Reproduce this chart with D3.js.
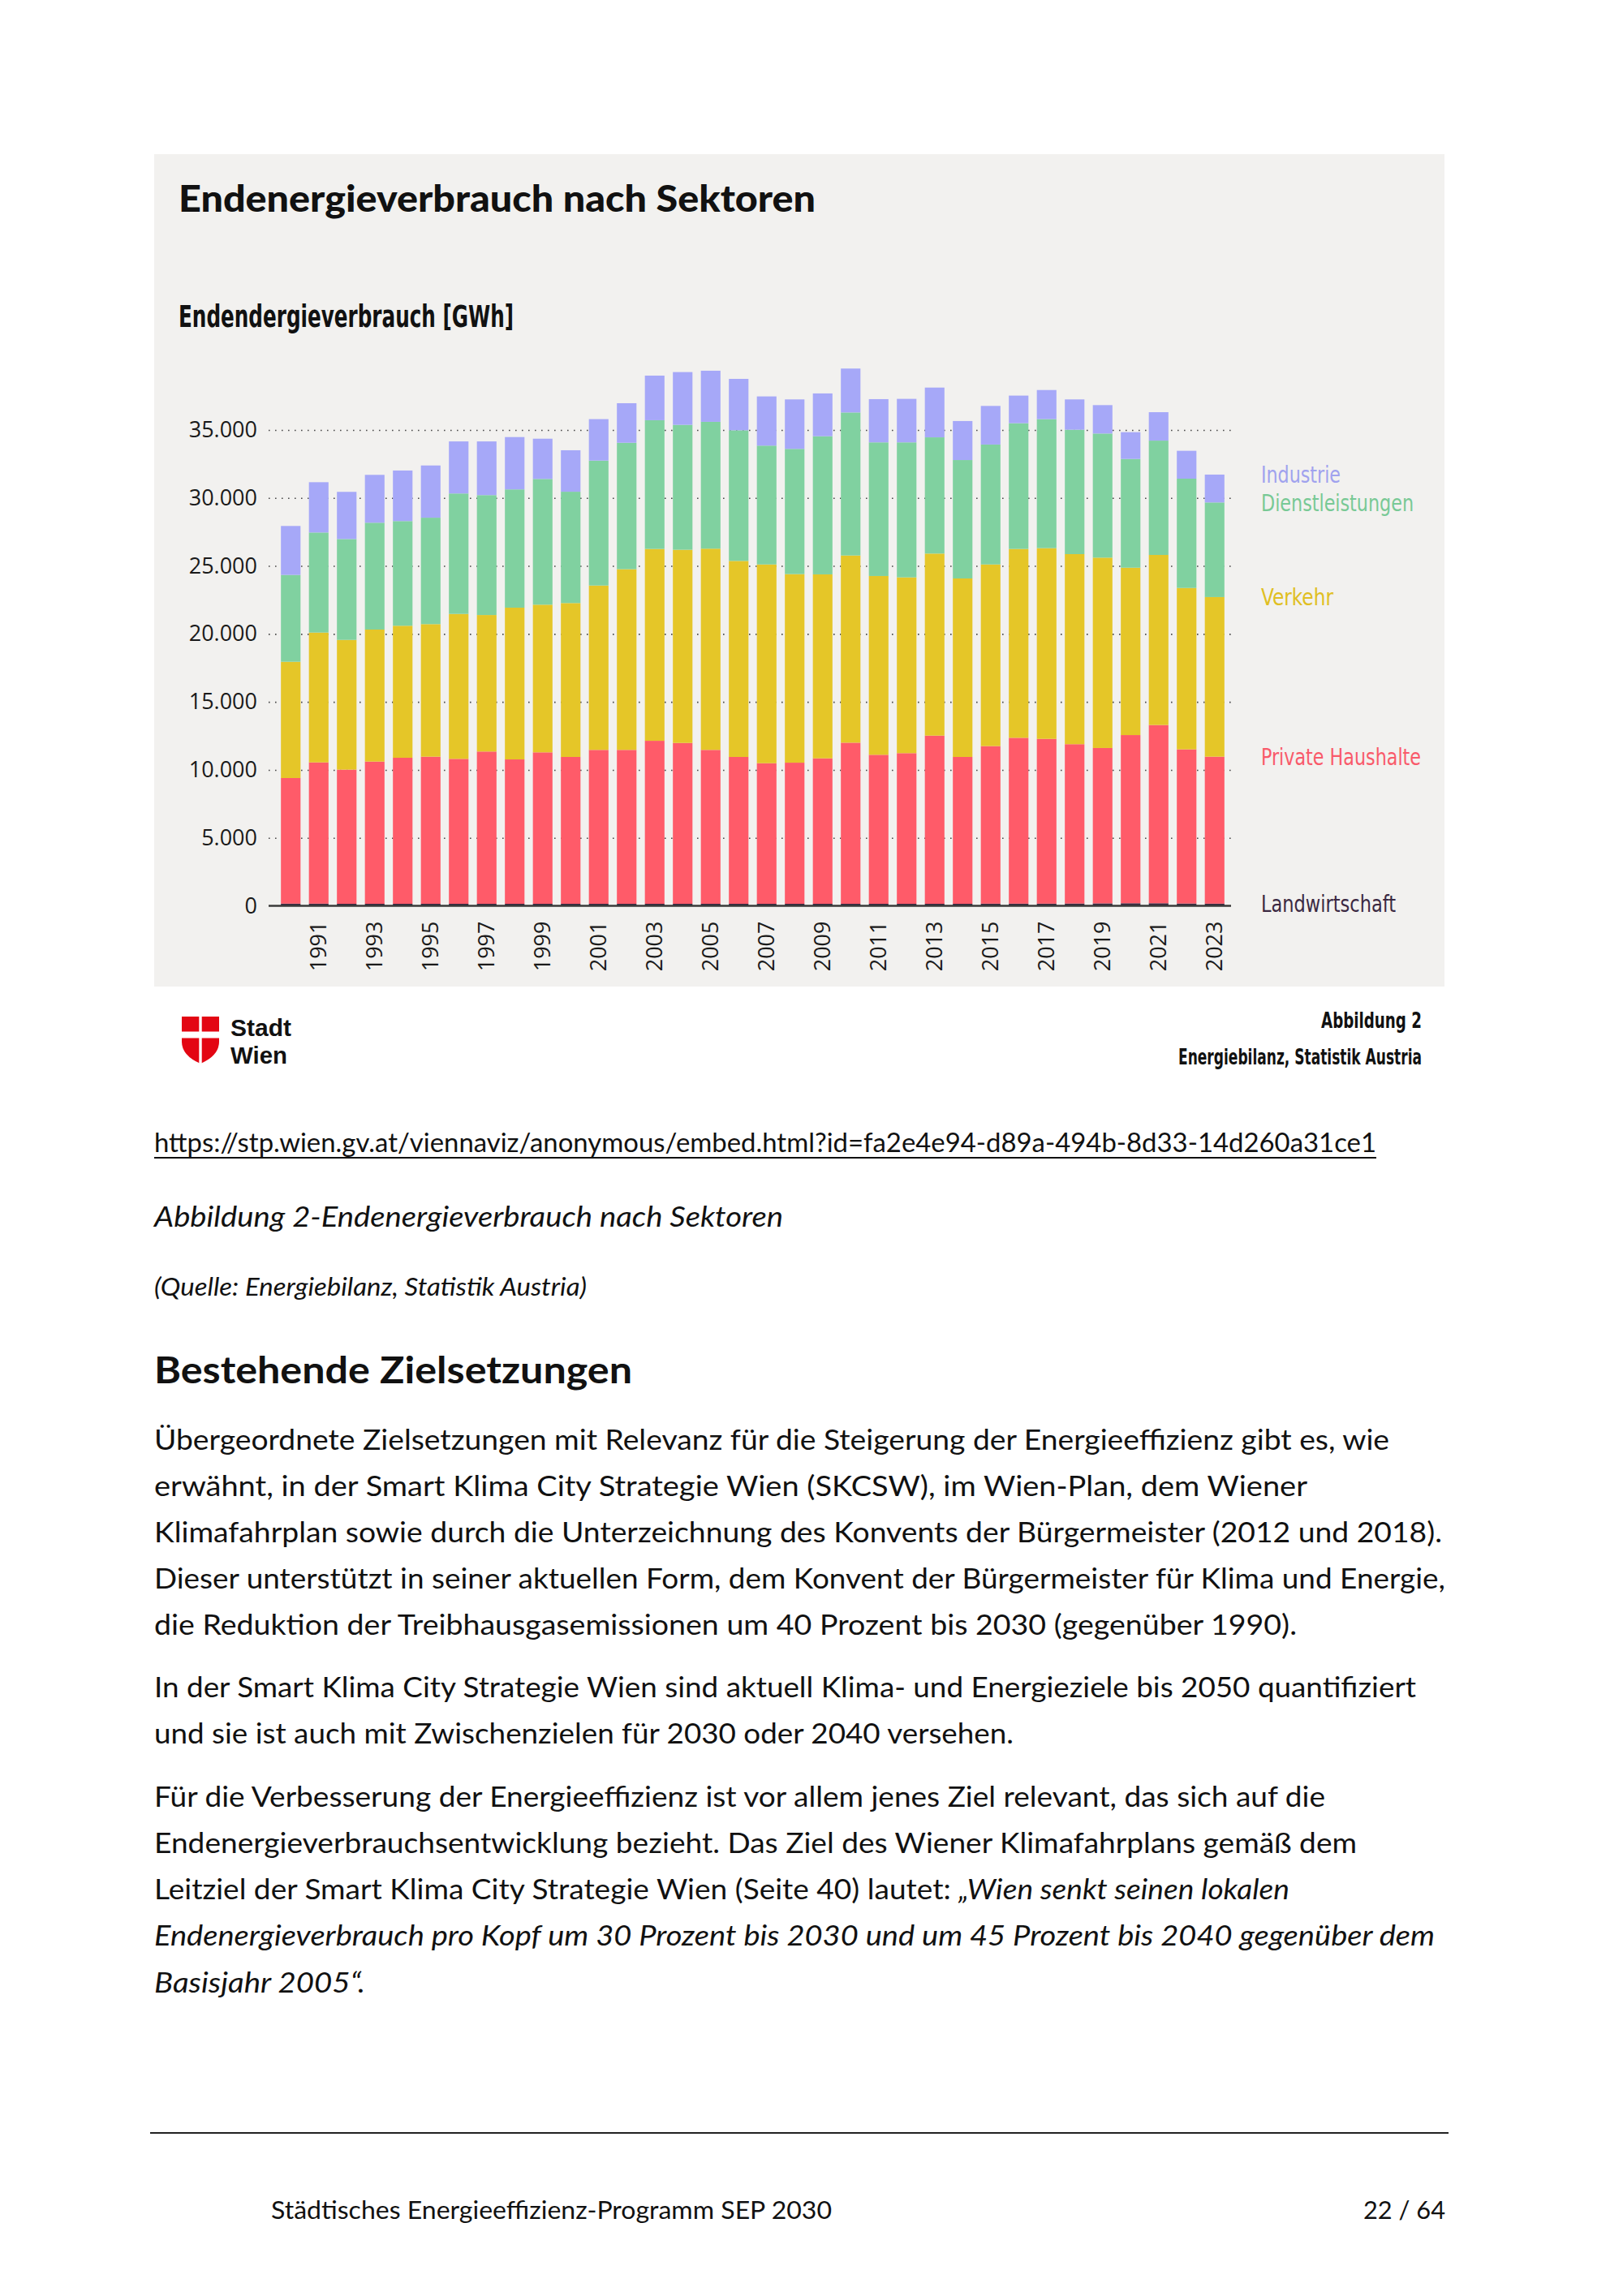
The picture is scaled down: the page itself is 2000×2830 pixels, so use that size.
<!DOCTYPE html>
<html>
<head>
<meta charset="utf-8">
<script src="https://cdn.jsdelivr.net/npm/d3@7"></script>
<style>
  body { margin: 0; background: #fff; }
  svg { display: block; }
</style>
</head>
<body>
<svg id="page" width="2000" height="2830"></svg>
<script>
// Daten (GWh)
var years = [1990, 1991, 1992, 1993, 1994, 1995, 1996, 1997, 1998, 1999,
             2000, 2001, 2002, 2003, 2004, 2005, 2006, 2007, 2008, 2009,
             2010, 2011, 2012, 2013, 2014, 2015, 2016, 2017, 2018, 2019,
             2020, 2021, 2022, 2023];
var yearLabels = [1991, 1993, 1995, 1997, 1999, 2001, 2003, 2005, 2007, 2009,
                  2011, 2013, 2015, 2017, 2019, 2021, 2023];

var landwirtschaft = [160, 160, 150, 150, 150, 150, 150, 150, 150, 150,
                      150, 150, 150, 150, 150, 150, 150, 150, 150, 150,
                      150, 150, 150, 150, 150, 160, 160, 160, 170, 180,
                      190, 190, 170, 160];
var haushalte = [9240, 10390, 9870, 10460, 10740, 10820, 10660, 11200, 10620, 11140,
                 10800, 11320, 11320, 11990, 11830, 11320, 10800, 10340, 10380, 10700,
                 11850, 10960, 11080, 12370, 10800, 11590, 12200, 12120, 11720, 11430,
                 12370, 13110, 11340, 10810];
var verkehr = [8550, 9550, 9540, 9710, 9710, 9750, 10660, 10040, 11160, 10860,
               11320, 12090, 13290, 14110, 14210, 14800, 14420, 14620, 13870, 13530,
               13770, 13150, 12930, 13390, 13130, 13360, 13890, 14030, 13980, 14000,
               12310, 12510, 11870, 11740];
var dienstleistungen = [6390, 7360, 7420, 7860, 7700, 7830, 8860, 8820, 8700, 9250,
                        8190, 9190, 9300, 9470, 9190, 9330, 9610, 8740, 9210, 10160,
                        10520, 9830, 9930, 8550, 8710, 8820, 9250, 9490, 9150, 9130,
                        8000, 8410, 8040, 6960];
var industrie = [3600, 3700, 3470, 3520, 3720, 3840, 3830, 3950, 3850, 2960,
                 3050, 3050, 2910, 3280, 3880, 3760, 3780, 3620, 3640, 3150,
                 3230, 3180, 3200, 3660, 2870, 2840, 2030, 2140, 2230, 2090,
                 1970, 2090, 2050, 2050];
var yTicks = [0, 5000, 10000, 15000, 20000, 25000, 30000, 35000];

;(function(){

    var sectors = ["Landwirtschaft", "Private Haushalte", "Verkehr", "Dienstleistungen", "Industrie"];
    var color_hash = {
        "Landwirtschaft"    : ["#3b2942", "#3b2942"],
        "Private Haushalte" : ["#ff5b69", "#f95a6a"],
        "Verkehr"           : ["#e5c628", "#e0bf22"],
        "Dienstleistungen"  : ["#80d1a0", "#78c995"],
        "Industrie"         : ["#a6a8f8", "#a0a2ee"]
    };
    // Breite der Legendentexte
    var labelWidth = {"Landwirtschaft": 166, "Private Haushalte": 197, "Verkehr": 89,
                      "Dienstleistungen": 188, "Industrie": 98};

    var rows = years.map(function(yr, i){
        return {
            year: yr,
            "Landwirtschaft": landwirtschaft[i],
            "Private Haushalte": haushalte[i],
            "Verkehr": verkehr[i],
            "Dienstleistungen": dienstleistungen[i],
            "Industrie": industrie[i]
        };
    });
    var stacked = d3.stack().keys(sectors)(rows);

    var svg = d3.select("#page");
    var bodyFont = "Lato, 'Open Sans', sans-serif";
    var narrowFont = "'Liberation Sans Narrow', 'DejaVu Sans Condensed', Lato, sans-serif";

    svg.append("rect").attr("width", 2000).attr("height", 2830).attr("fill", "#ffffff");

    // Grafik-Kasten
    svg.append("rect")
        .attr("x", 190).attr("y", 190)
        .attr("width", 1590).attr("height", 1026)
        .attr("fill", "#f2f1ef");

    svg.append("text")
        .attr("x", 220).attr("y", 261)
        .attr("font-family", bodyFont).attr("font-weight", 900)
        .attr("font-size", 46).attr("fill", "#111")
        .attr("textLength", 785).attr("lengthAdjust", "spacingAndGlyphs")
        .text("Endenergieverbrauch nach Sektoren");

    svg.append("text")
        .attr("x", 220).attr("y", 403)
        .attr("font-family", narrowFont).attr("font-weight", 700)
        .attr("font-size", 37).attr("fill", "#111")
        .attr("textLength", 413).attr("lengthAdjust", "spacingAndGlyphs")
        .text("Endendergieverbrauch [GWh]");

    var gridLeft = 331, gridRight = 1517;

    var x = d3.scaleBand()
        .domain(years)
        .range([341, 1514])
        .paddingInner(0.3)
        .paddingOuter(0.15);

    var y = d3.scaleLinear()
        .domain([0, 35000])
        .range([1116.5, 530]);

    var de = d3.formatLocale({decimal: ",", thousands: ".", grouping: [3], currency: ["", " €"]});

    var yAxis = d3.axisLeft(y)
        .tickValues(yTicks)
        .tickSizeInner(-(gridRight - gridLeft))
        .tickSizeOuter(0)
        .tickPadding(14)
        .tickFormat(de.format(","));

    var gy = svg.append("g")//y-Achse mit Hilfslinien
        .attr("class", "axis axis-y")
        .attr("transform", "translate(" + gridLeft + ",0)")
        .call(yAxis);
    gy.select(".domain").remove();
    gy.selectAll(".tick line")
        .attr("stroke", "#4a4a4a")
        .attr("stroke-width", 1.6)
        .attr("stroke-dasharray", "1.6,6.4");
    gy.selectAll(".tick").filter(function(d){ return d === 0; }).select("line").remove();
    gy.selectAll(".tick text")
        .attr("font-family", "'Open Sans', sans-serif")
        .attr("font-size", 27)
        .attr("fill", "#1a1a1a");

    // gestapelte Balken
    var layer = svg.append("g").selectAll("g")
        .data(stacked)
        .enter().append("g")
        .attr("fill", function(d){ return color_hash[d.key][0]; });

    layer.selectAll("rect")
        .data(function(d){ return d; })
        .enter().append("rect")
        .attr("x", function(d){ return x(d.data.year); })
        .attr("width", x.bandwidth())
        .attr("y", function(d){ return y(d[1]); })
        .attr("height", function(d){ return y(d[0]) - y(d[1]); });

    // Nulllinie
    svg.append("line")
        .attr("x1", gridLeft).attr("x2", gridRight)
        .attr("y1", y(0)).attr("y2", y(0))
        .attr("stroke", "#3a3a3a")
        .attr("stroke-width", 2.5);

    var gx = svg.append("g")//x-Achse
        .attr("class", "axis axis-x")
        .attr("transform", "translate(0," + y(0) + ")")
        .call(d3.axisBottom(x).tickValues(yearLabels).tickSize(0));
    gx.select(".domain").remove();
    gx.selectAll(".tick text")
        .attr("font-family", "'Open Sans', sans-serif")
        .attr("font-size", 27)
        .attr("fill", "#1a1a1a")
        .attr("transform", "rotate(-90)")
        .attr("text-anchor", "end")
        .attr("x", -19)
        .attr("y", 0)
        .attr("dy", "0.36em");

    // Beschriftung rechts, auf Höhe des letzten Balkens
    stacked.forEach(function(s){
        var last = s[s.length - 1];
        svg.append("text")
            .attr("x", 1554)
            .attr("y", y(last[1]))
            .attr("dy", "0.36em")
            .attr("font-family", narrowFont)
            .attr("font-size", 29)
            .attr("fill", color_hash[s.key][1])
            .attr("textLength", labelWidth[s.key])
            .attr("lengthAdjust", "spacingAndGlyphs")
            .text(s.key);
    });

    // Logo Stadt Wien
    var logo = svg.append("g");
    logo.append("path")
        .attr("d", "M224,1253 H270 V1284 Q270,1301 247,1311 Q224,1301 224,1284 Z")
        .attr("fill", "#e30613");
    logo.append("rect").attr("x", 222).attr("y", 1271.5).attr("width", 50).attr("height", 8).attr("fill", "#fff");
    logo.append("rect").attr("x", 245.3).attr("y", 1251).attr("width", 3.4).attr("height", 62).attr("fill", "#fff");
    logo.append("text").attr("x", 284).attr("y", 1277)
        .attr("font-family", "'Liberation Sans', Arial, sans-serif").attr("font-weight", 700)
        .attr("font-size", 29).attr("fill", "#111")
        .attr("textLength", 75).attr("lengthAdjust", "spacingAndGlyphs")
        .text("Stadt");
    logo.append("text").attr("x", 284).attr("y", 1311)
        .attr("font-family", "'Liberation Sans', Arial, sans-serif").attr("font-weight", 700)
        .attr("font-size", 29).attr("fill", "#111")
        .attr("textLength", 70).attr("lengthAdjust", "spacingAndGlyphs")
        .text("Wien");

    svg.append("text").attr("x", 1752).attr("y", 1267)
        .attr("text-anchor", "end")
        .attr("font-family", narrowFont).attr("font-weight", 700).attr("font-size", 27).attr("fill", "#111")
        .attr("textLength", 124).attr("lengthAdjust", "spacingAndGlyphs")
        .text("Abbildung 2");
    svg.append("text").attr("x", 1752).attr("y", 1312)
        .attr("text-anchor", "end")
        .attr("font-family", narrowFont).attr("font-weight", 700).attr("font-size", 27).attr("fill", "#111")
        .attr("textLength", 300).attr("lengthAdjust", "spacingAndGlyphs")
        .text("Energiebilanz, Statistik Austria");

    // Fließtext der Seite
    var url = "https://stp.wien.gv.at/viennaviz/anonymous/embed.html?id=fa2e4e94-d89a-494b-8d33-14d260a31ce1";
    svg.append("text").attr("x", 190).attr("y", 1420)
        .attr("font-family", bodyFont).attr("font-size", 33).attr("fill", "#111")
        .attr("textLength", 1506).attr("lengthAdjust", "spacingAndGlyphs")
        .text(url);
    svg.append("line")
        .attr("x1", 190).attr("x2", 1696).attr("y1", 1427).attr("y2", 1427)
        .attr("stroke", "#111").attr("stroke-width", 2);

    svg.append("text").attr("x", 190).attr("y", 1512)
        .attr("font-family", bodyFont).attr("font-style", "italic").attr("font-size", 35).attr("fill", "#111")
        .attr("textLength", 775).attr("lengthAdjust", "spacingAndGlyphs")
        .text("Abbildung 2-Endenergieverbrauch nach Sektoren");
    svg.append("text").attr("x", 190).attr("y", 1597)
        .attr("font-family", bodyFont).attr("font-style", "italic").attr("font-size", 30).attr("fill", "#111")
        .attr("textLength", 533).attr("lengthAdjust", "spacingAndGlyphs")
        .text("(Quelle: Energiebilanz, Statistik Austria)");
    svg.append("text").attr("x", 190).attr("y", 1705)
        .attr("font-family", bodyFont).attr("font-weight", 700).attr("font-size", 45).attr("fill", "#111")
        .attr("textLength", 589).attr("lengthAdjust", "spacingAndGlyphs")
        .text("Bestehende Zielsetzungen");

    var lines = [
        {y: 1787, w: 1522, parts: [["Übergeordnete Zielsetzungen mit Relevanz für die Steigerung der Energieeffizienz gibt es, wie", 0]]},
        {y: 1844, w: 1421, parts: [["erwähnt, in der Smart Klima City Strategie Wien (SKCSW), im Wien-Plan, dem Wiener", 0]]},
        {y: 1901, w: 1587, parts: [["Klimafahrplan sowie durch die Unterzeichnung des Konvents der Bürgermeister (2012 und 2018).", 0]]},
        {y: 1958, w: 1591, parts: [["Dieser unterstützt in seiner aktuellen Form, dem Konvent der Bürgermeister für Klima und Energie,", 0]]},
        {y: 2015, w: 1408, parts: [["die Reduktion der Treibhausgasemissionen um 40 Prozent bis 2030 (gegenüber 1990).", 0]]},
        {y: 2092, w: 1555, parts: [["In der Smart Klima City Strategie Wien sind aktuell Klima- und Energieziele bis 2050 quantifiziert", 0]]},
        {y: 2149, w: 1059, parts: [["und sie ist auch mit Zwischenzielen für 2030 oder 2040 versehen.", 0]]},
        {y: 2227, w: 1443, parts: [["Für die Verbesserung der Energieeffizienz ist vor allem jenes Ziel relevant, das sich auf die", 0]]},
        {y: 2284, w: 1482, parts: [["Endenergieverbrauchsentwicklung bezieht. Das Ziel des Wiener Klimafahrplans gemäß dem", 0]]},
        {y: 2341, w: 1399, parts: [["Leitziel der Smart Klima City Strategie Wien (Seite 40) lautet: ", 0], ["„Wien senkt seinen lokalen", 1]]},
        {y: 2398, w: 1578, parts: [["Endenergieverbrauch pro Kopf um 30 Prozent bis 2030 und um 45 Prozent bis 2040 gegenüber dem", 1]]},
        {y: 2456, w: 260, parts: [["Basisjahr 2005“.", 1]]}
    ];

    lines.forEach(function(l){
        var t = svg.append("text")
            .attr("x", 190).attr("y", l.y)
            .attr("font-family", bodyFont).attr("font-size", 35).attr("fill", "#111")
            .attr("textLength", l.w).attr("lengthAdjust", "spacingAndGlyphs")
            .attr("xml:space", "preserve")
            .style("white-space", "pre");
        l.parts.forEach(function(p){
            t.append("tspan")
                .attr("font-style", p[1] ? "italic" : "normal")
                .text(p[0]);
        });
    });

    // Fußzeile
    svg.append("line")
        .attr("x1", 185).attr("x2", 1785).attr("y1", 2629).attr("y2", 2629)
        .attr("stroke", "#222").attr("stroke-width", 2);
    svg.append("text").attr("x", 334).attr("y", 2735)
        .attr("font-family", bodyFont).attr("font-size", 31).attr("fill", "#111")
        .attr("textLength", 691).attr("lengthAdjust", "spacingAndGlyphs")
        .text("Städtisches Energieeffizienz-Programm SEP 2030");
    svg.append("text").attr("x", 1781).attr("y", 2735)
        .attr("text-anchor", "end")
        .attr("font-family", bodyFont).attr("font-size", 31).attr("fill", "#111")
        .attr("textLength", 101).attr("lengthAdjust", "spacingAndGlyphs")
        .text("22 / 64");

}());
</script>
</body>
</html>
